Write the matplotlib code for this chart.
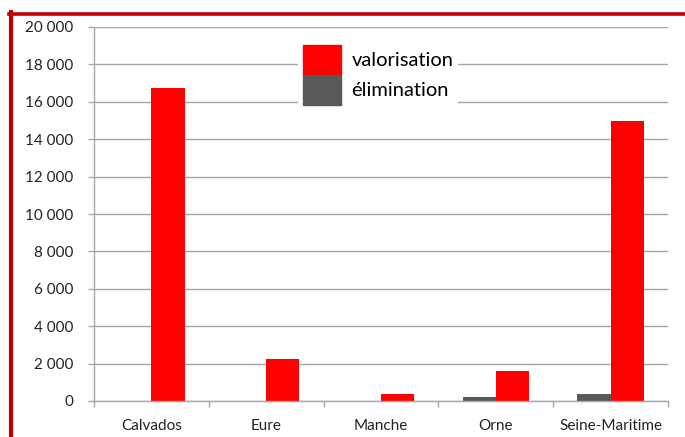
import matplotlib
matplotlib.use("Agg")
import matplotlib.pyplot as plt
from matplotlib.lines import Line2D
from matplotlib.patches import Patch
import numpy as np

# data (tonnes)
departements = ["Calvados", "Eure", "Manche", "Orne", "Seine-Maritime"]
valorisation = [16750, 2230, 380, 1620, 15000]
elimination = [0, 0, 0, 230, 380]
yticks = [0, 2000, 4000, 6000, 8000, 10000, 12000, 14000, 16000, 18000, 20000]

RED = "#ff0000"
GREY = "#595959"
AXC = "#a6a6a6"
W, H = 685, 437

plt.rcParams["font.family"] = ["Lato", "DejaVu Sans"]

fig = plt.figure(figsize=(W / 100, H / 100), dpi=100)
ax = fig.add_axes([94 / W, 36 / H, (668 - 94) / W, 374 / H])

x = np.arange(len(departements))
bw = 0.29
ax.bar(x - bw / 2, elimination, bw, color=GREY, zorder=3)
ax.bar(x + bw / 2, valorisation, bw, color=RED, zorder=3)

ax.set_xlim(-0.5, len(departements) - 0.5)
ax.set_ylim(0, 20000)
ax.set_yticks(yticks)
ax.set_yticklabels([f"{v:,}".replace(",", " ") for v in yticks])
ax.set_xticks(x)
ax.set_xticklabels(departements)
ax.set_xticks(np.arange(-0.5, len(departements)), minor=True)
ax.tick_params(axis="x", which="major", length=0, pad=13, labelsize=11, colors="#222222")
ax.tick_params(axis="x", which="minor", length=4, color=AXC, width=1)
ax.tick_params(axis="y", length=4, color=AXC, width=1, pad=11, labelsize=11, labelcolor="#222222")

ax.grid(axis="y", color=AXC, linewidth=1, zorder=0)
for s in ["top", "right"]:
    ax.spines[s].set_visible(False)
for s in ["left", "bottom"]:
    ax.spines[s].set_color(AXC)
    ax.spines[s].set_linewidth(1)
    ax.spines[s].set_zorder(4)

handles = [Patch(color=RED, label="valorisation"), Patch(color=GREY, label="élimination")]
leg = ax.legend(handles=handles, loc="upper left",
                bbox_to_anchor=(298 / W, (H - 40) / H), bbox_transform=fig.transFigure,
                fontsize=14.5, frameon=True, framealpha=1, edgecolor="none",
                fancybox=False, handlelength=1.9, handleheight=1.9,
                labelspacing=0, handletextpad=0.5, borderpad=0.25, borderaxespad=0)
leg.set_zorder(5)

# red frame of the cropped page
fig.add_artist(Line2D([11 / W, 11 / W], [0, (H - 12) / H], color="#c00000", linewidth=3, transform=fig.transFigure))
fig.add_artist(Line2D([9 / W, 1], [(H - 14) / H, (H - 14) / H], color="#c00000", linewidth=2.6, transform=fig.transFigure))

fig.savefig("out.png", dpi=100)
